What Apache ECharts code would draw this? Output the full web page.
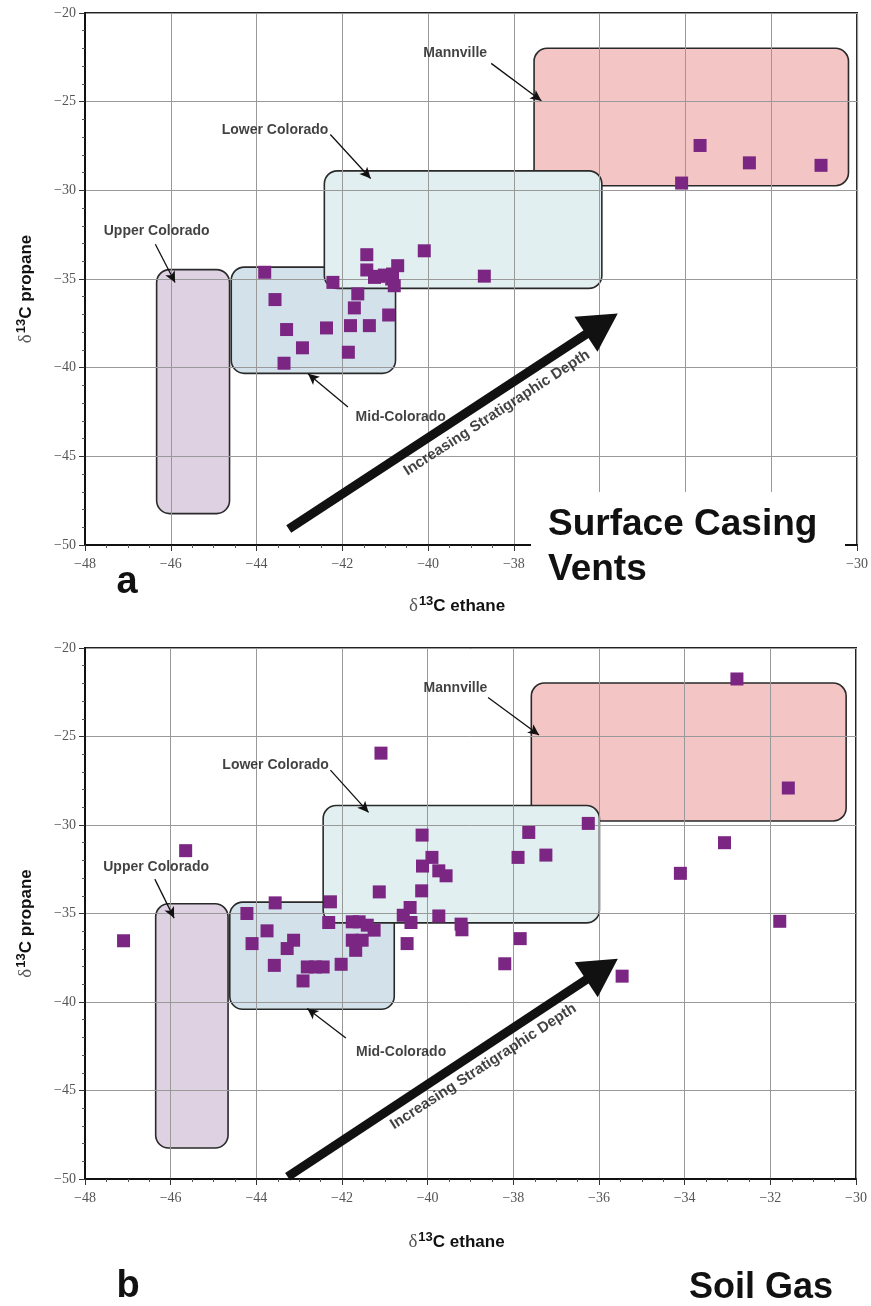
<!DOCTYPE html>
<html>
<head>
<meta charset="utf-8">
<script src="https://cdn.jsdelivr.net/npm/echarts@6/dist/echarts.min.js"></script>
<style>
  html, body { margin: 0; padding: 0; background: #fff; }
  #chart { width: 871px; height: 1306px; }
</style>
</head>
<body>
<div id="chart"></div>
<script>
// ---- data ----
const ethaneTicks = [-48, -46, -44, -42, -40, -38, -36, -34, -32, -30];
const propaneTicks = [-50, -45, -40, -35, -30, -25, -20];

// panel a: surface casing vents [ethane, propane]
const ventPoints = [
  [-33.66, -27.47], [-32.51, -28.45], [-30.84, -28.59], [-34.09, -29.59],
  [-40.09, -33.41], [-38.69, -34.84], [-41.43, -33.63], [-43.81, -34.62],
  [-41.43, -34.49], [-40.71, -34.25], [-41.25, -34.91], [-41.02, -34.78],
  [-40.83, -34.72], [-40.79, -35.38], [-41.15, -34.85], [-40.85, -35.0],
  [-42.22, -35.19], [-41.64, -35.84], [-43.57, -36.16], [-41.72, -36.63],
  [-40.92, -37.03], [-43.30, -37.85], [-42.37, -37.76], [-41.81, -37.63],
  [-41.37, -37.63], [-42.93, -38.88], [-41.86, -39.13], [-43.36, -39.75]
];

// panel b: soil gas [ethane, propane]
const soilPoints = [
  [-32.78, -21.75], [-41.09, -25.94], [-31.58, -27.91], [-36.25, -29.91],
  [-37.64, -30.42], [-40.13, -30.57], [-33.07, -31.00], [-45.65, -31.45],
  [-37.89, -31.83], [-37.24, -31.70], [-39.90, -31.83], [-40.12, -32.32],
  [-39.74, -32.59], [-39.57, -32.87], [-34.10, -32.73], [-40.14, -33.72],
  [-41.13, -33.78], [-42.27, -34.34], [-43.56, -34.40], [-40.41, -34.66],
  [-44.22, -35.00], [-40.57, -35.10], [-40.39, -35.51], [-39.74, -35.14],
  [-39.22, -35.60], [-39.20, -35.92], [-31.78, -35.44], [-42.31, -35.51],
  [-41.76, -35.47], [-41.60, -35.47], [-41.41, -35.66], [-41.25, -35.94],
  [-43.75, -35.98], [-44.10, -36.70], [-43.13, -36.51], [-43.28, -36.98],
  [-41.76, -36.51], [-41.53, -36.51], [-41.68, -37.08], [-40.48, -36.70],
  [-37.84, -36.42], [-47.10, -36.54], [-43.58, -37.93], [-42.91, -38.81],
  [-42.81, -38.02], [-42.62, -38.02], [-42.44, -38.02], [-42.02, -37.87],
  [-38.20, -37.84], [-35.46, -38.54]
];

// formation fields: [ethane min, ethane max, propane min, propane max]
const regionNames = ['Mannville', 'Upper Colorado', 'Mid-Colorado', 'Lower Colorado'];
const regionsA = [
  [-37.53, -30.20, -29.74, -21.99],
  [-46.33, -44.63, -48.23, -34.47],
  [-44.59, -40.76, -40.32, -34.33],
  [-42.42, -35.95, -35.53, -28.90]
];
const regionsB = [
  [-37.58, -30.23, -29.77, -21.98],
  [-46.35, -44.66, -48.25, -34.45],
  [-44.62, -40.78, -40.41, -34.36],
  [-42.44, -35.99, -35.53, -28.90]
];

// label anchors and pointer arrows [from, to] in data units
const labelPosA = [[-39.37, -22.24], [-46.33, -32.29], [-40.64, -42.77], [-43.57, -26.58]];
const labelPosB = [[-39.35, -22.29], [-46.34, -32.37], [-40.62, -42.82], [-43.55, -26.59]];
const pointersA = [
  [[-38.53, -22.84], [-37.36, -24.95]],
  [[-46.36, -33.04], [-45.90, -35.20]],
  [[-41.87, -42.22], [-42.80, -40.35]],
  [[-42.28, -26.85], [-41.34, -29.33]]
];
const pointersB = [
  [[-38.59, -22.80], [-37.40, -24.92]],
  [[-46.37, -33.06], [-45.92, -35.26]],
  [[-41.91, -42.03], [-42.81, -40.37]],
  [[-42.27, -26.90], [-41.38, -29.29]]
];
const depthText = 'Increasing Stratigraphic Depth';
const depthArrowA = [[-43.25, -49.10], [-35.95, -37.53]];
const depthArrowB = [[-43.27, -49.87], [-35.93, -38.15]];
const depthLabelA = [-38.4, -42.55];
const depthLabelB = [-38.7, -43.65];

const regionFill = ['#f3c5c5', '#ddd1e2', '#d3e2ea', '#e2eff0'];
const pointColor = '#7a2682';

const chart = echarts.init(document.getElementById('chart'));

const minus = v => String(v).replace('-', '\u2212');

function axisName(text) {
  return '{d|\u03b4}{s|13}{c|C ' + text + '}';
}
const nameRich = {
  d: { fontFamily: 'Liberation Serif', fontSize: 19, color: '#555' },
  s: { fontFamily: 'Liberation Sans', fontWeight: 'bold', fontSize: 13, color: '#111', padding: [0, 0, 9, 1] },
  c: { fontFamily: 'Liberation Sans', fontWeight: 'bold', fontSize: 17, color: '#111' }
};

function makeX(idx) {
  return {
    gridIndex: idx, type: 'value', min: -48, max: -30, interval: 2, z: 3,
    name: axisName('ethane'), nameLocation: 'middle', nameGap: idx === 0 ? 50 : 52,
    nameTextStyle: { rich: nameRich, padding: [0, 28, 0, 0] },
    axisLine: { show: true, onZero: false, lineStyle: { color: '#111', width: 2 } },
    axisTick: { show: true, length: 6, lineStyle: { color: '#333' } },
    minorTick: { show: true, splitNumber: 4, length: 3, lineStyle: { color: '#555' } },
    axisLabel: { margin: 12, color: '#555', fontFamily: 'Liberation Serif', fontSize: 14,
      formatter: minus, showMinLabel: true, showMaxLabel: true },
    splitLine: { show: true, lineStyle: { color: '#999', width: 1 } }
  };
}
function makeY(idx) {
  return {
    gridIndex: idx, type: 'value', min: -50, max: -20, interval: 5, z: 3,
    name: axisName('propane'), nameLocation: 'middle', nameGap: 48, nameRotate: 90,
    nameTextStyle: { rich: nameRich, padding: [0, 20, 0, 0] },
    axisLine: { show: true, onZero: false, lineStyle: { color: '#111', width: 2 } },
    axisTick: { show: true, length: 6, lineStyle: { color: '#333' } },
    minorTick: { show: true, splitNumber: 5, length: 3, lineStyle: { color: '#555' } },
    axisLabel: { margin: 9, color: '#555', fontFamily: 'Liberation Serif', fontSize: 14,
      formatter: minus, showMinLabel: true, showMaxLabel: true },
    splitLine: { show: true, lineStyle: { color: '#999', width: 1 } }
  };
}

function renderBox(params, api) {
  const a = api.coord([api.value(0), api.value(3)]);
  const b = api.coord([api.value(1), api.value(2)]);
  return {
    type: 'rect',
    shape: { x: a[0], y: a[1], width: b[0] - a[0], height: b[1] - a[1], r: 13 },
    style: { fill: regionFill[params.dataIndex], stroke: '#2a2a2a', lineWidth: 1.6 }
  };
}

function panelSeries(idx, points, regions, labelPos, pointers, arrow, depthPos) {
  const axes = { xAxisIndex: idx, yAxisIndex: idx };
  return [
    Object.assign({
      type: 'custom', z: 1, renderItem: renderBox, data: regions,
      encode: { x: [0, 1], y: [2, 3] }, silent: true
    }, axes),
    Object.assign({
      type: 'scatter', z: 4, data: [], silent: true,
      markLine: {
        silent: true, animation: false, z: 4, symbol: ['none', 'arrow'], symbolSize: [8, 11],
        label: { show: false },
        lineStyle: { type: 'solid', color: '#111', width: 1.3 },
        data: pointers.map(p => [{ coord: p[0] }, { coord: p[1] }])
      }
    }, axes),
    Object.assign({
      type: 'scatter', z: 4, data: [], silent: true,
      markLine: {
        silent: true, animation: false, z: 4, symbol: ['none', 'triangle'], symbolSize: [42, 38],
        label: { show: false },
        lineStyle: { type: 'solid', color: '#111', width: 9, opacity: 1 },
        itemStyle: { color: '#111' },
        data: [[{ coord: arrow[0] }, { coord: arrow[1] }]]
      }
    }, axes),
    Object.assign({
      type: 'scatter', z: 6, symbolSize: 0, silent: true,
      data: regionNames.map((n, i) => ({ name: n, value: labelPos[i] })).concat([
        { name: depthText, value: depthPos, label: { rotate: 33, fontSize: 15 } }
      ]),
      label: {
        show: true, position: 'inside', formatter: '{b}', color: '#111',
        textBorderWidth: 0, fontFamily: 'Liberation Sans', fontWeight: 'bold', fontSize: 14
      }
    }, axes),
    Object.assign({
      type: 'scatter', z: 10, symbol: 'rect', symbolSize: 13,
      itemStyle: { color: pointColor, opacity: 1 }, data: points
    }, axes)
  ];
}

const option = {
  animation: false,
  backgroundColor: '#fff',
  grid: [
    { left: 85, top: 13, width: 775, height: 532, show: true, borderColor: '#222', borderWidth: 2, backgroundColor: 'transparent' },
    { left: 85, top: 648, width: 771, height: 531, show: true, borderColor: '#222', borderWidth: 2, backgroundColor: 'transparent' }
  ],
  xAxis: [makeX(0), makeX(1)],
  yAxis: [makeY(0), makeY(1)],
  series: panelSeries(0, ventPoints, regionsA, labelPosA, pointersA, depthArrowA, depthLabelA)
    .concat(panelSeries(1, soilPoints, regionsB, labelPosB, pointersB, depthArrowB, depthLabelB)),
  graphic: [
    { type: 'rect', z: 100, shape: { x: 531, y: 492, width: 314, height: 102 }, style: { fill: '#fff' } },
    { type: 'text', z: 101, x: 548, y: 502, style: {
      text: 'Surface Casing\nVents', fill: '#111', fontFamily: 'Liberation Sans', fontWeight: 'bold',
      fontSize: 37, lineHeight: 45, verticalAlign: 'top', align: 'left' } },
    { type: 'text', z: 101, x: 127, y: 583, style: {
      text: 'a', fill: '#111', fontFamily: 'Liberation Sans', fontWeight: 'bold',
      fontSize: 38, verticalAlign: 'middle', align: 'center' } },
    { type: 'text', z: 101, x: 128, y: 1287, style: {
      text: 'b', fill: '#111', fontFamily: 'Liberation Sans', fontWeight: 'bold',
      fontSize: 38, verticalAlign: 'middle', align: 'center' } },
    { type: 'text', z: 101, x: 689, y: 1288, style: {
      text: 'Soil Gas', fill: '#111', fontFamily: 'Liberation Sans', fontWeight: 'bold',
      fontSize: 36, verticalAlign: 'middle', align: 'left' } }
  ]
};

chart.setOption(option);
</script>
</body>
</html>
